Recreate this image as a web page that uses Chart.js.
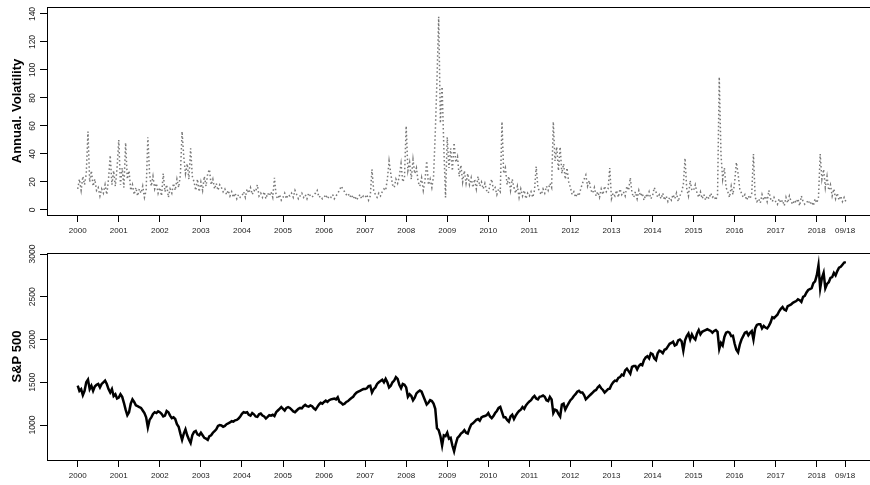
<!DOCTYPE html>
<html>
<head>
<meta charset="utf-8">
<script src="https://cdn.jsdelivr.net/npm/chart.js@4.4.0/dist/chart.umd.min.js"></script>
<style>
  html, body { margin: 0; padding: 0; background: #fff; overflow: hidden; width: 870px; height: 485px; }
  .panel { position: absolute; left: 0; }
  #top { top: 0; }
  #bottom { top: 240px; }
</style>
</head>
<body>
<div class="panel" id="top"><canvas id="volChart" width="880" height="240"></canvas></div>
<div class="panel" id="bottom"><canvas id="spxChart" width="880" height="245"></canvas></div>
<script>
// half-monthly readings, 24 per year, starting Jan 2000
const startYear = 2000;
const stepsPerYear = 24;

const xTicks = [2000, 2001, 2002, 2003, 2004, 2005, 2006, 2007, 2008, 2009,
  2010, 2011, 2012, 2013, 2014, 2015, 2016, 2017, 2018, 2018.69];
const xTickLabels = ['2000', '2001', '2002', '2003', '2004', '2005', '2006', '2007', '2008', '2009',
  '2010', '2011', '2012', '2013', '2014', '2015', '2016', '2017', '2018', '09/18'];

const volTicks = [0, 20, 40, 60, 80, 100, 120, 140];
const spxTicks = [1000, 1500, 2000, 2500, 3000];

// annualised volatility (%)
const volatility = [
  15,22,14,24,18,26,56,20,28,17,22,14,16,10,15,12,18,11,22,39,18,28,17,30, // 2000
  50,18,30,16,48,22,28,14,18,11,16,10,15,12,17,9,14,52,26,17,24,15,19,12,  // 2001
  16,10,26,13,18,9,15,12,19,14,22,16,25,56,38,26,33,22,44,24,20,14,22,13,  // 2002
  20,14,24,17,26,29,18,22,15,19,14,18,16,13,15,11,14,10,13,9,12,8,11,9,    // 2003
  10,13,9,15,12,16,11,14,13,18,10,12,9,13,8,12,10,13,9,23,10,8,11,7,       // 2004
  9,12,8,11,10,12,9,14,11,8,10,12,9,11,8,12,10,9,11,12,14,9,10,8,          // 2005
  9,11,8,10,9,11,8,10,12,14,17,15,13,11,12,9,11,8,10,7,9,11,8,10,          // 2006
  9,11,7,10,29,14,11,9,12,10,13,15,14,22,35,26,18,16,22,19,24,33,20,23,    // 2007
  60,28,34,22,36,26,30,20,17,23,14,21,35,18,22,16,24,55,93,138,62,88,45,9, // 2008
  52,30,44,28,48,34,38,24,32,20,28,19,26,18,23,16,22,15,24,17,20,15,19,14, // 2009
  12,18,22,14,16,11,15,13,63,26,30,18,24,14,22,16,12,17,9,15,10,14,8,12,   // 2010
  10,13,9,14,31,16,13,11,15,12,17,14,19,16,63,35,45,28,45,26,33,22,30,20,  // 2011
  16,11,13,9,12,10,15,19,22,25,17,21,14,12,16,10,13,9,15,11,17,13,15,30,   // 2012
  8,12,10,14,9,15,11,13,10,17,14,23,12,9,13,8,14,10,12,7,11,9,13,8,        // 2013
  10,16,13,9,11,8,12,7,10,6,9,7,11,8,12,6,10,13,18,37,15,10,21,14,         // 2014
  14,18,12,9,13,8,11,7,10,8,12,9,10,7,11,95,40,22,30,16,13,9,17,11,        // 2015
  20,34,26,15,12,9,11,7,10,8,12,40,9,6,8,5,11,7,10,6,14,8,6,9,             // 2016
  6,4,8,5,7,3,9,5,10,6,4,7,5,8,3,10,6,4,5,7,4,6,3,8,                       // 2017
  5,9,40,22,29,16,24,14,18,10,15,8,12,7,10,6,9,6                           // 2018 (to Sep)
];

// S&P 500 index level
const sp500 = [
  1462,1400,1420,1350,1400,1500,1531,1420,1460,1400,1450,1470,1480,1440,1480,1500,1520,1480,1420,1380,1420,1340,1360,1310,
  1320,1360,1330,1260,1180,1115,1150,1250,1300,1270,1230,1220,1210,1200,1170,1140,1090,973,1060,1090,1130,1150,1140,1160,
  1150,1130,1100,1110,1165,1150,1110,1080,1090,1070,1010,980,900,827,900,950,880,830,789,880,920,930,890,880,
  910,880,850,840,827,870,880,910,930,950,990,1000,995,980,990,1010,1020,1030,1045,1040,1055,1060,1075,1100,
  1130,1150,1145,1150,1120,1110,1140,1125,1100,1095,1125,1135,1110,1100,1077,1095,1115,1110,1120,1105,1150,1170,1190,1210,
  1190,1170,1200,1210,1200,1180,1160,1150,1170,1190,1200,1195,1220,1235,1220,1215,1230,1220,1195,1180,1210,1240,1260,1250,
  1270,1285,1270,1290,1300,1305,1310,1300,1325,1270,1260,1240,1250,1270,1280,1300,1315,1330,1360,1380,1390,1400,1410,1420,
  1420,1430,1455,1460,1380,1420,1440,1480,1500,1515,1530,1500,1540,1500,1440,1460,1500,1520,1560,1540,1470,1430,1480,1470,
  1440,1330,1360,1340,1290,1320,1370,1390,1404,1390,1340,1290,1240,1260,1290,1280,1250,1190,962,940,870,760,880,870,
  910,840,850,760,692,780,850,870,900,915,940,910,900,960,1005,1020,1040,1060,1070,1050,1090,1100,1105,1115,
  1140,1100,1080,1105,1140,1165,1200,1212,1150,1090,1090,1060,1040,1100,1120,1070,1110,1140,1165,1180,1210,1190,1230,1255,
  1275,1290,1320,1340,1310,1300,1330,1335,1345,1330,1290,1280,1330,1300,1140,1180,1170,1130,1100,1240,1250,1180,1220,1255,
  1290,1310,1340,1360,1390,1400,1380,1380,1350,1300,1320,1340,1360,1380,1400,1410,1440,1460,1430,1410,1380,1400,1420,1426,
  1470,1500,1520,1515,1550,1560,1590,1580,1640,1660,1630,1600,1680,1690,1690,1650,1690,1710,1700,1760,1790,1805,1780,1840,
  1830,1780,1760,1840,1870,1860,1840,1880,1890,1920,1950,1960,1975,1930,1940,1990,2000,1980,1870,1990,2040,2070,2000,2060,
  2020,2000,2070,2110,2060,2090,2100,2110,2120,2110,2100,2080,2100,2110,2090,1890,1960,1930,2030,2080,2090,2080,2040,2045,
  1950,1880,1850,1940,2000,2040,2080,2090,2050,2080,2100,2000,2130,2170,2180,2180,2130,2160,2140,2130,2160,2200,2260,2250,
  2270,2290,2330,2360,2380,2350,2340,2390,2400,2410,2430,2440,2450,2470,2460,2440,2500,2510,2550,2580,2590,2600,2660,2680,
  2750,2870,2600,2720,2780,2600,2650,2670,2720,2730,2780,2750,2800,2840,2850,2875,2900,2905
];

const FONT = 'Liberation Sans, Arial, Helvetica, sans-serif';

const toPoints = arr => arr.map((v, i) => ({ x: startYear + i / stepsPerYear, y: v }));

// R style box around the plot region
const frame = {
  id: 'frame',
  afterDraw(chart) {
    const { ctx, chartArea: a } = chart;
    ctx.save();
    ctx.strokeStyle = '#000';
    ctx.lineWidth = 1;
    ctx.strokeRect(Math.round(a.left) + 0.5, Math.round(a.top) + 0.5,
      Math.round(a.right - a.left), Math.round(a.bottom - a.top));
    ctx.restore();
  }
};

function xAxis(height) {
  return {
    type: 'linear',
    min: 1999.252,
    max: 2019.54,
    afterBuildTicks: s => { s.ticks = xTicks.map(v => ({ value: v })); },
    afterFit: s => { s.height = height; },
    grid: { drawOnChartArea: false, drawTicks: true, tickLength: 7, tickColor: '#000', tickWidth: 1 },
    border: { display: false },
    ticks: {
      autoSkip: false, maxRotation: 0, minRotation: 0, padding: 4, color: '#222',
      font: { family: FONT, size: 8 },
      callback: v => xTickLabels[xTicks.indexOf(v)]
    }
  };
}

function yAxis(title, min, max, tickVals, pad) {
  return {
    type: 'linear',
    min: min,
    max: max,
    afterBuildTicks: s => { s.ticks = tickVals.map(v => ({ value: v })); },
    afterFit: s => { s.width = 47; },
    grid: { drawOnChartArea: false, drawTicks: true, tickLength: 7, tickColor: '#000', tickWidth: 1 },
    border: { display: false },
    ticks: {
      minRotation: 90, maxRotation: 90, crossAlign: 'center', padding: pad, color: '#222',
      font: { family: FONT, size: 8.5 },
      callback: v => String(v)
    },
    title: {
      display: true, text: title, color: '#000',
      font: { family: FONT, size: 13, weight: 'bold' },
      padding: { top: 10, bottom: 0 }
    }
  };
}

const common = {
  responsive: false,
  animation: false,
  events: [],
  plugins: { legend: { display: false }, tooltip: { enabled: false } }
};

new Chart(document.getElementById('volChart'), {
  type: 'line',
  data: {
    datasets: [{
      data: toPoints(volatility),
      borderColor: '#777',
      borderWidth: 1.5,
      borderDash: [1.5, 2.5],
      pointRadius: 0,
      tension: 0,
      fill: false
    }]
  },
  options: Object.assign({}, common, {
    layout: { padding: { top: 7, left: 0, right: 0, bottom: 0 } },
    scales: {
      x: xAxis(25),
      y: yAxis('Annual. Volatility', -3.6, 145, volTicks, 0)
    }
  }),
  plugins: [frame]
});

new Chart(document.getElementById('spxChart'), {
  type: 'line',
  data: {
    datasets: [{
      data: toPoints(sp500),
      borderColor: '#000',
      borderWidth: 2.5,
      pointRadius: 0,
      tension: 0,
      fill: false
    }]
  },
  options: Object.assign({}, common, {
    layout: { padding: { top: 13, left: 0, right: 0, bottom: 0 } },
    scales: {
      x: xAxis(25),
      y: yAxis('S&P 500', 591, 3012, spxTicks, -2)
    }
  }),
  plugins: [frame]
});
</script>
</body>
</html>
